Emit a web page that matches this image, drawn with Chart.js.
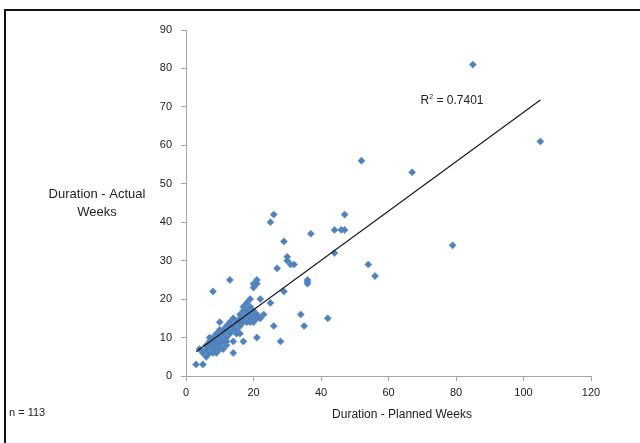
<!DOCTYPE html>
<html>
<head>
<meta charset="utf-8">
<script src="https://cdn.jsdelivr.net/npm/chart.js@4/dist/chart.umd.min.js"></script>
<style>
  html, body { margin: 0; padding: 0; background: #fff; }
  #wrap { position: relative; width: 640px; height: 443px; }
  #frame {
    position: absolute; left: 4px; top: 9px; width: 700px; height: 500px;
    border-left: 2px solid #111; border-top: 2px solid #111; pointer-events: none;
  }
</style>
</head>
<body>
<div id="wrap">
  <canvas id="chart" width="640" height="443"></canvas>
  <div id="frame"></div>
</div>
<script>
// planned weeks (x) and actual weeks (y)
const plannedWeeks = [
  85, 105, 52, 67, 47, 37, 44, 46, 47, 44, 54, 56, 36, 36, 79,
  26, 25, 29, 30, 30, 31, 32, 27, 13, 8, 20, 21, 21, 20, 36,
  22, 29, 25, 34, 35, 42, 26, 21, 28, 17, 14, 14, 3, 5, 23,
  4, 5, 6, 6, 6, 7, 7, 7, 8, 8, 8, 8, 8, 9, 9, 9, 9, 9, 10, 10,
  10, 10, 10, 10, 11, 11, 11, 11, 12, 12, 12, 12, 13, 13, 13, 14, 14, 14, 15,
  15, 15, 16, 16, 16, 16, 17, 17, 17, 17, 18, 18, 18, 18, 19, 19, 19, 19, 20,
  20, 20, 20, 21, 21, 22, 16, 12, 7, 19
];
const actualWeeks = [
  81, 61, 56, 53, 42, 37, 38, 38, 38, 32, 29, 26, 25, 24, 34,
  42, 40, 35, 31, 30, 29, 29, 28, 25, 22, 24, 25, 24, 23, 24.5,
  20, 22, 19, 16, 13, 15, 13, 10, 9, 9, 9, 6, 3, 3, 16,
  7, 6, 5, 7, 8, 6, 8, 9, 6, 7, 8, 9, 10, 6, 7, 8, 9, 11, 7, 8,
  9, 10, 12, 14, 7, 9, 11, 12, 8, 10, 12, 13, 11, 13, 14, 12, 13, 15, 11,
  12, 14, 13, 14, 15, 16, 14, 15, 17, 18, 14, 16, 17, 19, 14, 15, 16, 18, 14,
  15, 16, 17, 15, 16, 15, 11, 9, 10, 20
];
// linear trendline ends
const trendX = [3, 105];
const trendY = [6.3, 71.8];
const xTicks = [0, 20, 40, 60, 80, 100, 120];
const yTicks = [0, 10, 20, 30, 40, 50, 60, 70, 80, 90];

const FONT = '"Liberation Sans", Arial, sans-serif';

const points = plannedWeeks.map((x, i) => ({ x, y: actualWeeks[i] }));
const trend = trendX.map((x, i) => ({ x, y: trendY[i] }));

// texts that Excel places freely around the plot
const labelsPlugin = {
  id: 'labels',
  afterDraw(chart) {
    const ctx = chart.ctx;
    const xs = chart.scales.x, ys = chart.scales.y;
    ctx.save();
    ctx.fillStyle = '#222';
    ctx.textAlign = 'center';
    ctx.textBaseline = 'middle';
    ctx.font = '13px ' + FONT;
    ctx.fillText('Duration - Actual', 97, 194);
    ctx.fillText('Weeks', 97, 212);
    ctx.font = '12px ' + FONT;
    ctx.fillText('Duration - Planned Weeks', 402, 415);
    ctx.textAlign = 'left';
    ctx.font = '11px ' + FONT;
    ctx.fillText('n = 113', 9, 413);

    // R² label, anchored in data space
    const lx = xs.getPixelForValue(69.5);
    const ly = ys.getPixelForValue(71.5);
    ctx.font = '12px ' + FONT;
    ctx.fillText('R', lx, ly);
    let w = ctx.measureText('R').width;
    ctx.font = '7px ' + FONT;
    ctx.fillText('2', lx + w, ly - 4);
    w += ctx.measureText('2').width;
    ctx.font = '12px ' + FONT;
    ctx.fillText(' = 0.7401', lx + w, ly);
    ctx.restore();
  }
};

new Chart(document.getElementById('chart'), {
  type: 'scatter',
  data: {
    datasets: [
      {
        label: 'Projects',
        data: points,
        pointStyle: 'rectRot',
        pointRadius: 3.6,
        pointBackgroundColor: '#4f81bd',
        pointBorderColor: '#5b8cc6',
        pointBorderWidth: 0.5,
        order: 2
      },
      {
        type: 'line',
        label: 'Trend',
        data: trend,
        borderColor: '#1a1a1a',
        borderWidth: 1.2,
        pointRadius: 0,
        fill: false,
        order: 1
      }
    ]
  },
  options: {
    responsive: false,
    animation: false,
    layout: { padding: { left: 0, top: 30, right: 49, bottom: 0 } },
    plugins: {
      legend: { display: false },
      tooltip: { enabled: false }
    },
    scales: {
      x: {
        type: 'linear',
        min: 0,
        max: 120,
        afterBuildTicks: s => { s.ticks = xTicks.map(v => ({ value: v })); },
        afterFit: s => { s.height = 67; },
        ticks: { color: '#222', font: { size: 11, family: FONT }, padding: 5, maxRotation: 0 },
        grid: { drawOnChartArea: false, drawTicks: true, tickLength: 5, color: '#a6a6a6' },
        border: { display: true, color: '#a6a6a6', width: 1 }
      },
      y: {
        type: 'linear',
        min: 0,
        max: 90,
        afterBuildTicks: s => { s.ticks = yTicks.map(v => ({ value: v })); },
        afterFit: s => { s.width = 186; },
        ticks: { color: '#222', font: { size: 11, family: FONT }, padding: 9 },
        grid: { drawOnChartArea: false, drawTicks: true, tickLength: 5, color: '#a6a6a6' },
        border: { display: true, color: '#a6a6a6', width: 1 }
      }
    }
  },
  plugins: [labelsPlugin]
});
</script>
</body>
</html>
